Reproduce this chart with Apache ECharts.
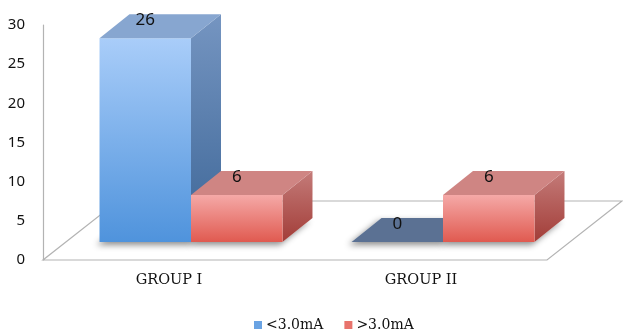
<!DOCTYPE html>
<html>
<head>
<meta charset="utf-8">
<script src="https://cdn.jsdelivr.net/npm/echarts@6/dist/echarts.min.js"></script>
<style>
  html, body { margin: 0; padding: 0; background: #fff; }
  #chart { width: 623px; height: 332px; }
</style>
</head>
<body>
<div id="chart"></div>
<script>
// Chart data
const categories = ['GROUP I', 'GROUP II'];
const seriesNames = ['<3.0mA', '>3.0mA'];
const lowCurrent = [26, 0];   // <3.0mA
const highCurrent = [6, 6];   // >3.0mA
const valueTicks = { min: 0, max: 30, interval: 5 };

// Pseudo-3D geometry (pixels): bars sit in the middle of the floor depth
const FLOOR_DX = 75, FLOOR_DY = -59;
const FRONT_DX = 22, FRONT_DY = -18;
const DEPTH_DX = 30, DEPTH_DY = -24;
const BAR_FRACTION = 0.363;

const palettes = [
  {
    legend: '#6aa3e3',
    front: ['#a9cdf9', '#4f93dc'],
    side: ['#7595c1', '#3d6697'],
    top: '#87a6d0',
    topZero: '#5b7193'
  },
  {
    legend: '#e8736c',
    front: ['#f5a9a7', '#e05a50'],
    side: ['#c47b79', '#a23d38'],
    top: '#cf8583',
    topZero: '#a85250'
  }
];

function vGrad(c) {
  return { type: 'linear', x: 0, y: 0, x2: 0, y2: 1,
    colorStops: [{ offset: 0, color: c[0] }, { offset: 1, color: c[1] }] };
}

function renderFloor(params) {
  const cs = params.coordSys;
  const fl = [cs.x, cs.y + cs.height];
  const fr = [cs.x + cs.width, cs.y + cs.height];
  return {
    type: 'polygon',
    shape: { points: [fl, fr, [fr[0] + FLOOR_DX, fr[1] + FLOOR_DY], [fl[0] + FLOOR_DX, fl[1] + FLOOR_DY]] },
    style: { fill: '#ffffff', stroke: '#b3b3b3', lineWidth: 1.2 },
    silent: true
  };
}

function makeBarRenderer(side) {
  const pal = palettes[side];
  return function (params, api) {
    const cat = api.value(0);
    const val = api.value(1);
    const base = api.coord([cat, 0]);
    const topPt = api.coord([cat, val]);
    const band = api.size([1, 0])[0];
    const w = band * BAR_FRACTION;
    const x0 = base[0] + (side === 0 ? -w : 0) + FRONT_DX;
    const x1 = x0 + w;
    const yb = base[1] + FRONT_DY;
    const yt = topPt[1] + FRONT_DY;
    const zb = 10 + side;
    const children = [];

    // soft shadow cast by the footprint onto the floor
    children.push({
      type: 'polygon', z2: 1,
      shape: { points: [[x0, yb], [x1, yb], [x1 + DEPTH_DX, yb + DEPTH_DY], [x0 + DEPTH_DX, yb + DEPTH_DY]] },
      style: { fill: '#ffffff', shadowColor: 'rgba(0,0,0,0.45)', shadowBlur: 6, shadowOffsetX: -3, shadowOffsetY: 3 }
    });

    if (yb - yt > 0.5) {
      children.push({
        type: 'polygon', z2: zb,
        shape: { points: [[x1, yt], [x1 + DEPTH_DX, yt + DEPTH_DY], [x1 + DEPTH_DX, yb + DEPTH_DY], [x1, yb]] },
        style: { fill: vGrad(pal.side) }
      });
      children.push({
        type: 'rect', z2: zb,
        shape: { x: x0, y: yt, width: w, height: yb - yt },
        style: { fill: vGrad(pal.front) }
      });
    }
    children.push({
      type: 'polygon', z2: zb,
      shape: { points: [[x0, yt], [x1, yt], [x1 + DEPTH_DX, yt + DEPTH_DY], [x0 + DEPTH_DX, yt + DEPTH_DY]] },
      style: { fill: (yb - yt > 0.5) ? pal.top : pal.topZero }
    });
    children.push({
      type: 'text', z2: 30,
      x: (x0 + x1) / 2, y: yt - 18,
      style: {
        text: String(val), fill: '#111',
        font: '17px "Noto Sans"', align: 'center', verticalAlign: 'middle'
      }
    });
    return { type: 'group', children: children };
  };
}

function toPoints(values) {
  return values.map((v, i) => [i, v]);
}

const chart = echarts.init(document.getElementById('chart'), null, { renderer: 'canvas' });
chart.setOption({
  animation: false,
  backgroundColor: '#ffffff',
  grid: { left: 43, right: 76, top: 25, bottom: 72 },
  legend: {
    data: seriesNames,
    left: 249, top: 313,
    icon: 'rect', itemWidth: 8, itemHeight: 8, itemGap: 21,
    textStyle: { fontFamily: '"DejaVu Serif"', fontSize: 14, color: '#111', padding: [0, 0, 0, -1] }
  },
  xAxis: {
    type: 'category',
    data: categories,
    axisLine: { show: false },
    axisTick: { show: false },
    axisLabel: { margin: 13, fontFamily: '"DejaVu Serif"', fontSize: 14.5, color: '#111' }
  },
  yAxis: {
    type: 'value',
    min: valueTicks.min, max: valueTicks.max, interval: valueTicks.interval,
    axisLine: { show: true, lineStyle: { color: '#b3b3b3', width: 1.2 } },
    axisTick: { show: false },
    splitLine: { show: false },
    axisLabel: { margin: 18, fontFamily: '"Noto Sans"', fontSize: 15, color: '#111' }
  },
  series: [
    {
      name: 'floor', type: 'custom', z: 1, silent: true,
      renderItem: renderFloor, data: [[0, 0]]
    },
    {
      name: seriesNames[0], type: 'custom', z: 2,
      itemStyle: { color: palettes[0].legend },
      renderItem: makeBarRenderer(0), data: toPoints(lowCurrent)
    },
    {
      name: seriesNames[1], type: 'custom', z: 2,
      itemStyle: { color: palettes[1].legend },
      renderItem: makeBarRenderer(1), data: toPoints(highCurrent)
    }
  ]
});
</script>
</body>
</html>
